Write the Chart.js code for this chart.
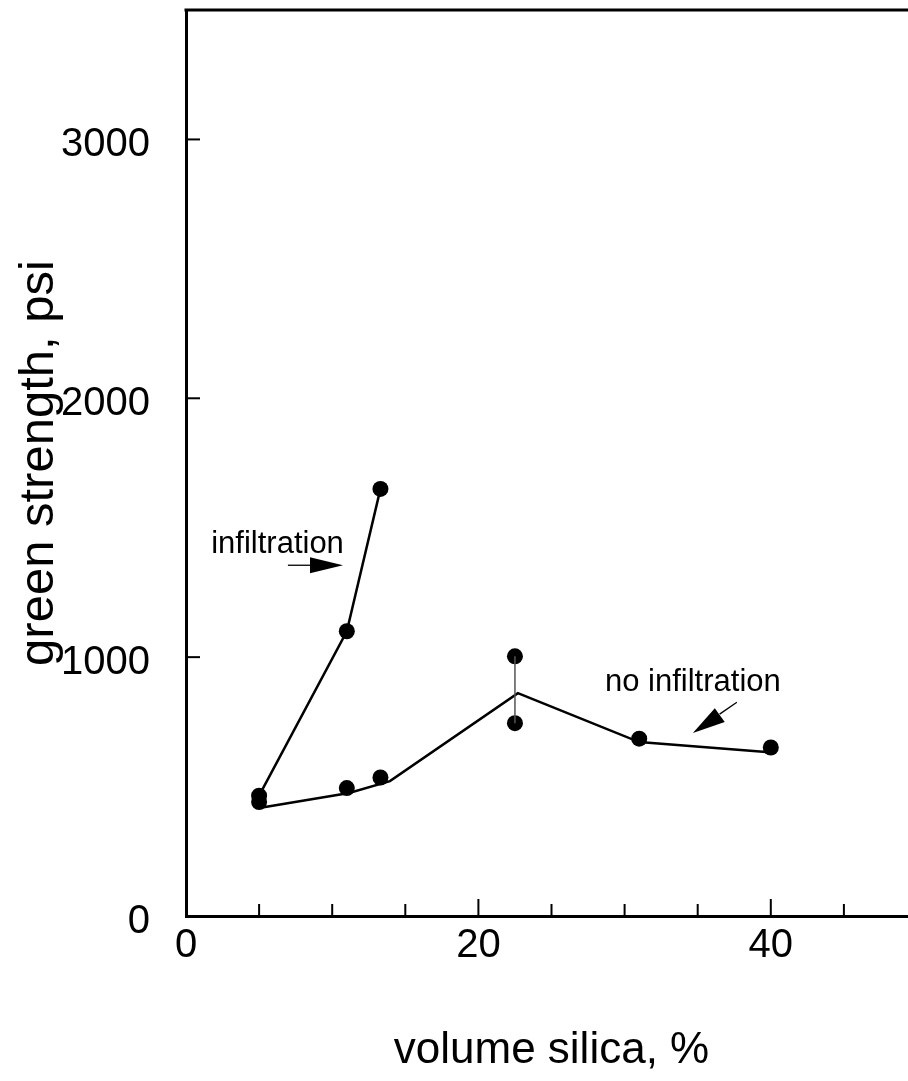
<!DOCTYPE html>
<html><head><meta charset="utf-8">
<script src="https://cdn.jsdelivr.net/npm/chart.js@4.4.1/dist/chart.umd.min.js"></script>
<style>
html,body{margin:0;padding:0;overflow:hidden;background:#fff;width:908px;height:1081px}
#wrap{width:926px;height:1081px;position:relative}
</style>
</head><body><div id="wrap"><canvas id="c" width="926" height="1081"></canvas></div>
<script>
// ---- data ----
const infilX = [5, 11, 13.3];
const infilY = [465, 1100, 1650];
const noInfilX = [5, 11, 13.3, 22.5, 22.5, 31, 40];
const noInfilY = [440, 494, 535, 1003, 745, 685, 651];
const noInfilFitX = [5.0, 11.15, 13.95, 22.7, 31.0, 39.9];
const noInfilFitY = [417, 475, 521, 861, 672, 633];
const errBarX = [22.5, 22.5];
const errBarY = [1003, 745];
const xTickLabels = [0, 20, 40];
const yTickLabels = [0, 1000, 2000, 3000];
const xMinorTicks = [5, 10, 15, 20, 25, 30, 35, 40, 45];
const xMajorTicks = [20, 40];
// annotation texts and arrows (data units)
const labelTexts = ['infiltration', 'no infiltration'];
const labelX = [6.26, 34.67];
const labelY = [1402, 869];
const arrowShaftX = [[6.97, 8.48], [37.68, 36.5]];
const arrowShaftY = [[1355, 1355], [826, 780]];
const arrowHeadX = [[8.48, 10.74, 8.48], [36.17, 34.67, 36.85]];
const arrowHeadY = [[1386, 1355, 1324], [803, 707, 749]];

const pts = (xs, ys) => xs.map((x, i) => ({x, y: ys[i]}));
const FONT = "'Liberation Sans', Arial, Helvetica, sans-serif";
Chart.defaults.font.family = FONT;
Chart.defaults.color = '#000';

const decor = {
  id: 'decor',
  afterDatasetsDraw(chart) {
    const {ctx, chartArea: a, scales: {x, y}} = chart;
    ctx.save();
    ctx.strokeStyle = '#000';
    // top border
    ctx.lineWidth = 3;
    ctx.beginPath(); ctx.moveTo(a.left - 1.5, a.top); ctx.lineTo(a.right + 20, a.top); ctx.stroke();
    // inward tick marks
    ctx.lineWidth = 2;
    xMinorTicks.forEach(v => {
      const px = x.getPixelForValue(v);
      const len = xMajorTicks.includes(v) ? 17 : 12;
      ctx.beginPath(); ctx.moveTo(px, a.bottom); ctx.lineTo(px, a.bottom - len); ctx.stroke();
    });
    yTickLabels.filter(v => v > 0).forEach(v => {
      const py = y.getPixelForValue(v);
      ctx.beginPath(); ctx.moveTo(a.left, py); ctx.lineTo(a.left + 14, py); ctx.stroke();
    });
    // annotation labels
    ctx.fillStyle = '#000';
    ctx.font = '31px ' + FONT;
    ctx.textAlign = 'center';
    ctx.textBaseline = 'alphabetic';
    labelTexts.forEach((t, i) => {
      ctx.fillText(t, x.getPixelForValue(labelX[i]), y.getPixelForValue(labelY[i]));
    });
    // arrows
    arrowShaftX.forEach((sx, i) => {
      ctx.lineWidth = 1.3;
      ctx.beginPath();
      ctx.moveTo(x.getPixelForValue(sx[0]), y.getPixelForValue(arrowShaftY[i][0]));
      ctx.lineTo(x.getPixelForValue(sx[1]), y.getPixelForValue(arrowShaftY[i][1]));
      ctx.stroke();
      const hx = arrowHeadX[i], hy = arrowHeadY[i];
      ctx.beginPath();
      ctx.moveTo(x.getPixelForValue(hx[0]), y.getPixelForValue(hy[0]));
      ctx.lineTo(x.getPixelForValue(hx[1]), y.getPixelForValue(hy[1]));
      ctx.lineTo(x.getPixelForValue(hx[2]), y.getPixelForValue(hy[2]));
      ctx.closePath();
      ctx.fill();
    });
    ctx.restore();
  }
};

new Chart(document.getElementById('c'), {
  type: 'scatter',
  data: {
    datasets: [
      { label: 'error bar', data: pts(errBarX, errBarY), showLine: true, borderColor: '#555',
        borderWidth: 1.5, pointRadius: 0 },
      { label: 'no infiltration fit', data: pts(noInfilFitX, noInfilFitY), showLine: true,
        borderColor: '#000', borderWidth: 2.5, pointRadius: 0 },
      { label: 'no infiltration', data: pts(noInfilX, noInfilY), showLine: false,
        pointRadius: 8, pointBackgroundColor: '#000', pointBorderWidth: 0, borderColor: '#000' },
      { label: 'infiltration', data: pts(infilX, infilY), showLine: true, borderColor: '#000',
        borderWidth: 2.5, pointRadius: 8, pointBackgroundColor: '#000', pointBorderWidth: 0 }
    ]
  },
  options: {
    responsive: false,
    animation: false,
    devicePixelRatio: 1,
    layout: { padding: { top: 10, right: 9, left: 0, bottom: 0 } },
    plugins: { legend: { display: false }, tooltip: { enabled: false } },
    scales: {
      x: {
        type: 'linear', min: 0, max: 50,
        grid: { display: false, drawTicks: false },
        border: { display: true, color: '#000', width: 3 },
        ticks: { stepSize: 5, padding: 6, autoSkip: false, includeBounds: false,
          font: { size: 40 }, color: '#000',
          callback: v => xTickLabels.includes(v) ? String(v) : '' },
        title: { display: true, text: 'volume silica, %', font: { size: 44 }, color: '#000',
          padding: { top: 0, bottom: 4 } },
        afterFit: s => { s.height = 165; s.paddingLeft = 0; s.paddingRight = 0; }
      },
      y: {
        type: 'linear', min: 0, max: 3500,
        grid: { display: false, drawTicks: false },
        border: { display: true, color: '#000', width: 3 },
        ticks: { stepSize: 500, padding: 36, autoSkip: false, includeBounds: false,
          labelOffset: 6, font: { size: 40 }, color: '#000',
          callback: v => yTickLabels.includes(v) ? String(v) : '' },
        title: { display: true, text: 'green strength, psi', font: { size: 49 }, color: '#000',
          padding: { top: 10, bottom: 0 } },
        afterFit: s => { s.width = 186; s.paddingTop = 0; s.paddingBottom = 0; }
      }
    }
  },
  plugins: [decor]
});
</script>
</body></html>
